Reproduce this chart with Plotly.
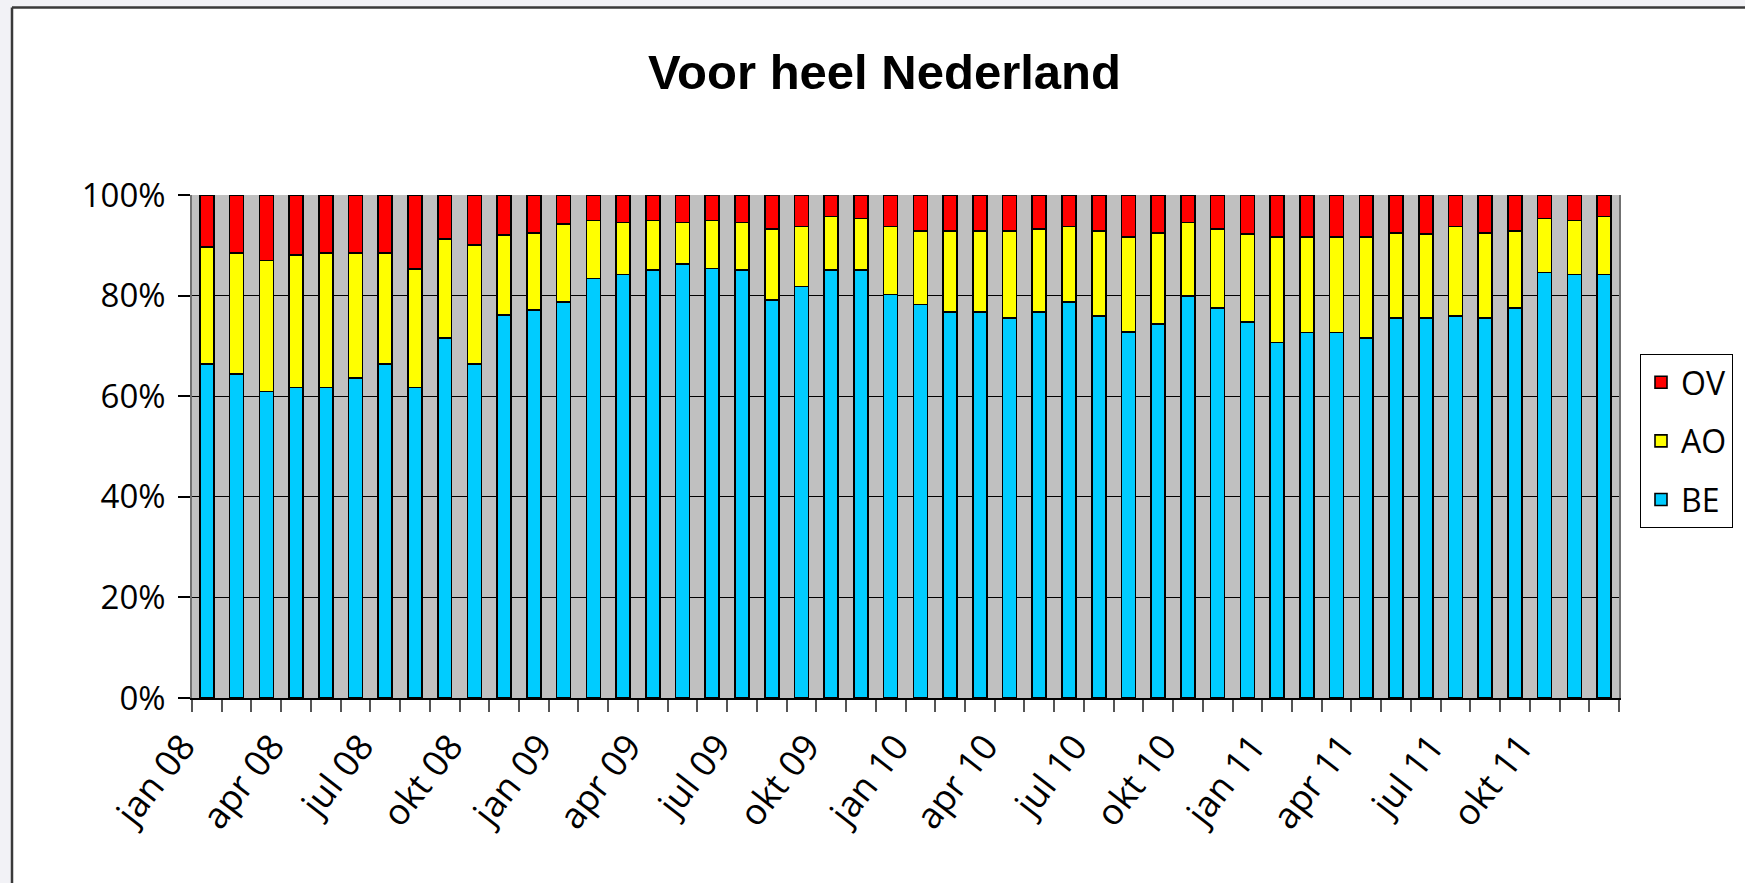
import plotly.graph_objects as go

# ---- data -------------------------------------------------------------
month_names = ["jan", "feb", "mrt", "apr", "mei", "jun", "jul", "aug", "sep", "okt", "nov", "dec"]
years = ["08", "09", "10", "11"]
months = [f"{m} {y}" for y in years for m in month_names]

BE = [66.4, 64.4, 60.9, 61.7, 61.7, 63.6, 66.4, 61.7, 71.6, 66.4, 76.2, 77.1,
      78.7, 83.4, 84.2, 85.1, 86.3, 85.4, 85.1, 79.1, 81.8, 85.1, 85.1, 80.2,
      78.2, 76.7, 76.7, 75.6, 76.7, 78.7, 75.9, 72.8, 74.4, 79.9, 77.5, 74.7,
      70.7, 72.7, 72.7, 71.6, 75.6, 75.6, 75.9, 75.6, 77.5, 84.6, 84.2, 84.2]
AO = [23.3, 24.1, 26.1, 26.4, 26.8, 24.9, 22.1, 23.6, 19.7, 23.7, 15.9, 15.4,
      15.5, 11.5, 10.3, 9.8, 8.2, 9.5, 9.4, 14.2, 11.9, 10.6, 10.2, 13.5,
      14.7, 16.2, 16.2, 17.3, 16.6, 15.0, 17.0, 18.9, 18.1, 14.6, 15.8, 17.5,
      21.0, 19.0, 19.0, 20.1, 16.9, 16.6, 17.8, 16.9, 15.4, 10.7, 10.7, 11.5]
OV = [10.3, 11.5, 13.0, 11.9, 11.5, 11.5, 11.5, 14.7, 8.7, 9.9, 7.9, 7.5,
      5.8, 5.1, 5.5, 5.1, 5.5, 5.1, 5.5, 6.7, 6.3, 4.3, 4.7, 6.3,
      7.1, 7.1, 7.1, 7.1, 6.7, 6.3, 7.1, 8.3, 7.5, 5.5, 6.7, 7.8,
      8.3, 8.3, 8.3, 8.3, 7.5, 7.8, 6.3, 7.5, 7.1, 4.7, 5.1, 4.3]

y_ticks = [0, 20, 40, 60, 80, 100]
y_tick_text = [f"{v}%" for v in y_ticks]

x_pos = list(range(len(months)))
tick_idx = x_pos[::3]
tick_text = months[::3]

# stacking order bottom -> top, with legend rank (OV shown first)
series = [("BE", BE, "#00ccff", 3), ("AO", AO, "#ffff00", 2), ("OV", OV, "#ff0000", 1)]

# ---- figure -----------------------------------------------------------
fig = go.Figure()
for name, vals, color, rank in series:
    fig.add_trace(go.Bar(
        x=x_pos, y=vals, name=name, legendgroup=name, legendrank=rank,
        customdata=months,
        hovertemplate="%{customdata}: %{y:.1f}%<extra>" + name + "</extra>",
        marker=dict(color=color, line=dict(color="black", width=1.6)),
    ))

W, H = 1745, 883
L, R, T, B = 192, 126, 195, 185
PW, PH = W - L - R, H - T - B

TEXT_FONT = "Open Sans, DejaVu Sans, sans-serif"

fig.update_layout(
    width=W, height=H,
    margin=dict(l=L, r=R, t=T, b=B, autoexpand=False),
    barmode="stack", bargap=0.53,
    paper_bgcolor="white", plot_bgcolor="#c0c0c0",
    font=dict(family=TEXT_FONT, size=32, color="black"),
    title=dict(
        text="Voor heel Nederland",
        font=dict(family="Liberation Sans, Arial, sans-serif", size=49, weight="bold", color="black"),
        xref="container", x=884.5 / W, xanchor="center",
        yref="container", y=1 - 72 / H, yanchor="middle",
    ),
    legend=dict(
        x=(1640 - L) / PW, xanchor="left",
        y=(H - B - 354) / PH, yanchor="top",
        bgcolor="white", bordercolor="black", borderwidth=1,
        font=dict(family=TEXT_FONT, size=32, color="black"),
        traceorder="grouped", tracegroupgap=14,
    ),
    xaxis=dict(
        range=[-0.5, len(months) - 0.5],
        tickmode="array", tickvals=tick_idx, ticktext=tick_text,
        tickangle=-52, ticks="", showgrid=False, zeroline=False,
        showline=True, linecolor="black", linewidth=1.5,
        tickfont=dict(family=TEXT_FONT, size=36, color="black"),
        ticklabelstandoff=11, ticklabelshift=-24,
        minor=dict(tickmode="linear", tick0=0.5, dtick=1, ticks="outside",
                   ticklen=12, tickwidth=1.5, tickcolor="#555555", showgrid=False),
    ),
    yaxis=dict(
        range=[0, 100], tickmode="array", tickvals=y_ticks, ticktext=y_tick_text,
        ticks="outside", ticklen=12, tickwidth=1.5, tickcolor="black",
        ticklabelstandoff=6,
        showgrid=True, gridcolor="black", gridwidth=1,
        zeroline=False, showline=True, linecolor="#707070", linewidth=1.5, mirror=True,
        tickfont=dict(family=TEXT_FONT, size=33, color="black"),
    ),
    showlegend=True,
)

# outer frame of the chart area (light strip + dark border at top/left)
frame_bg = "#f2f2f6"
frame_line = "#3a3a3a"
fig.add_shape(type="rect", xref="paper", xsizemode="pixel", xanchor=0, x0=-220, x1=-180,
              yref="paper", y0=-1, y1=2, fillcolor=frame_bg, line=dict(width=0), layer="above")
fig.add_shape(type="rect", xref="paper", x0=-0.3, x1=1.5,
              yref="paper", ysizemode="pixel", yanchor=1, y0=187.5, y1=240,
              fillcolor=frame_bg, line=dict(width=0), layer="above")
fig.add_shape(type="line", xref="paper", xsizemode="pixel", xanchor=0, x0=-180, x1=-180,
              yref="paper", ysizemode="pixel", yanchor=1, y0=-1200, y1=187.5,
              line=dict(color=frame_line, width=2.5), layer="above")
fig.add_shape(type="line", xref="paper", xsizemode="pixel", xanchor=0, x0=-180, x1=2000,
              yref="paper", ysizemode="pixel", yanchor=1, y0=187.5, y1=187.5,
              line=dict(color=frame_line, width=2.5), layer="above")

fig.write_html(
    "out.html",
    config={"displayModeBar": False},
    post_script="document.body.style.margin='0';document.body.style.overflow='hidden';",
)
